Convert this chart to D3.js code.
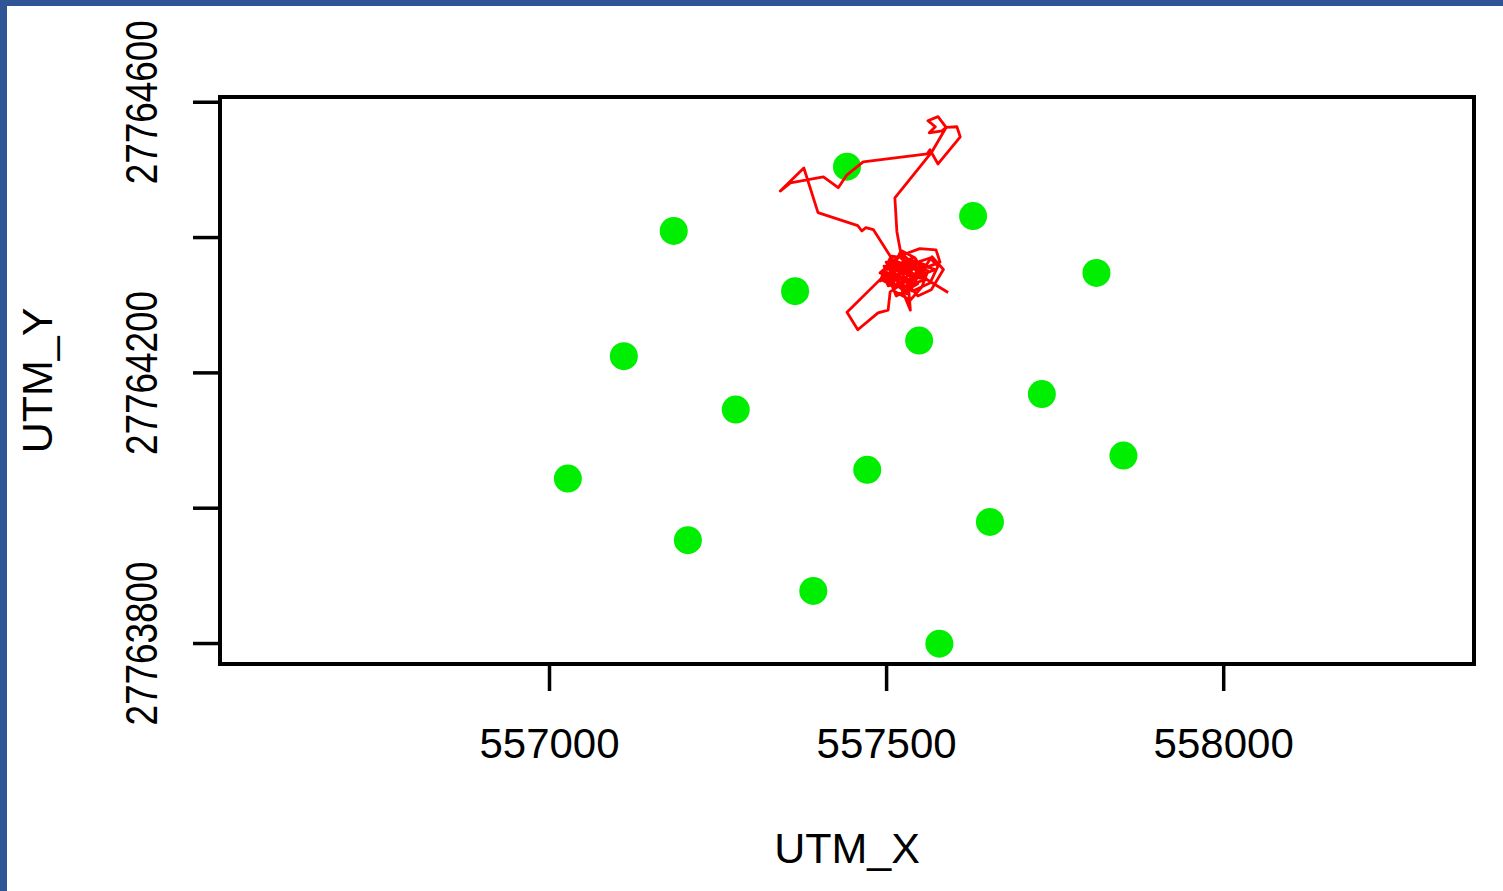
<!DOCTYPE html>
<html lang="en">
<head>
    <meta charset="UTF-8">
    <title>UTM track</title>
    <script src="https://cdn.jsdelivr.net/npm/d3@7"></script>
    <style>
        body { margin: 0; background: #fff; }
        text { font-family: "Liberation Sans", Arial, sans-serif; fill: #000; }
    </style>
</head>
<body>
    <svg id="plot" width="1503" height="891"></svg>
    <script>
        // station locations (green dots)
        const stationX = [557442, 557185, 557629, 557812, 557365, 557111, 557549, 557731,
                          557277, 557852, 557028, 557472, 557654, 557206, 557392, 557579]
        const stationY = [27764504, 27764409, 27764431, 27764347, 27764320, 27764224, 27764247, 27764168,
                          27764145, 27764077, 27764043, 27764056, 27763979, 27763952, 27763877, 27763799]

        // animal track (red line)
        const trackX = [557592, 557561, 557539, 557518, 557500, 557493, 557515, 557533, 557547, 557565,
                        557577, 557565, 557539, 557512, 557491, 557519, 557546, 557580, 557574, 557550,
                        557528, 557506, 557512, 557536, 557553, 557562, 557536, 557500, 557524, 557547,
                        557567, 557585, 557568, 557543, 557521, 557497, 557442, 557458, 557488, 557503,
                        557506, 557525, 557550, 557573, 557537, 557510, 557536, 557533, 557558, 557528,
                        557506, 557481, 557470, 557464, 557458, 557399, 557378, 557343, 557358, 557407,
                        557429, 557442, 557466, 557561, 557565, 557577, 557610, 557605, 557589, 557577,
                        557562, 557573, 557564, 557583, 557589, 557568, 557513, 557516, 557521, 557543,
                        557558, 557530, 557506, 557521, 557550,
                        557497, 557515, 557530, 557503, 557494, 557519, 557539, 557512, 557500, 557525,
                        557543, 557506, 557491, 557518, 557533, 557509, 557527, 557547, 557515, 557497,
                        557536, 557559, 557539, 557506, 557521, 557540, 557500, 557515, 557531, 557552]
        const trackY = [27764318, 27764337, 27764355, 27764363, 27764352, 27764337, 27764326, 27764344, 27764363, 27764369,
                        27764357, 27764332, 27764320, 27764338, 27764347, 27764371, 27764350, 27764363, 27764381, 27764383,
                        27764375, 27764363, 27764320, 27764307, 27764326, 27764350, 27764357, 27764334, 27764340, 27764313,
                        27764322, 27764352, 27764371, 27764335, 27764355, 27764343, 27764289, 27764263, 27764288, 27764292,
                        27764319, 27764332, 27764343, 27764352, 27764363, 27764355, 27764292, 27764329, 27764359, 27764369,
                        27764372, 27764411, 27764414, 27764409, 27764417, 27764436, 27764502, 27764468, 27764480, 27764489,
                        27764473, 27764492, 27764511, 27764523, 27764529, 27764508, 27764548, 27764563, 27764562, 27764578,
                        27764572, 27764563, 27764554, 27764557, 27764562, 27764526, 27764458, 27764408, 27764381, 27764369,
                        27764344, 27764337, 27764349, 27764360, 27764355,
                        27764352, 27764363, 27764334, 27764328, 27764349, 27764343, 27764369, 27764357, 27764340, 27764322,
                        27764344, 27764369, 27764335, 27764352, 27764363, 27764331, 27764355, 27764331, 27764313, 27764357,
                        27764343, 27764337, 27764331, 27764343, 27764378, 27764360, 27764363, 27764337, 27764316, 27764366]

        const xTicks = [557000, 557500, 558000]
        const yTicks = [27763800, 27764000, 27764200, 27764400, 27764600]
        const xLabels = ["557000", "557500", "558000"]
        const yLabels = ["27763800", "", "27764200", "", "27764600"]

        const svg = d3.select("#plot")
        const width = +svg.attr("width")
        const height = +svg.attr("height")

        // plot box
        const boxL = 220, boxR = 1474, boxT = 97, boxB = 664

        const x = d3.scaleLinear().domain([556512, 558372]).range([boxL, boxR])
        const y = d3.scaleLinear().domain([27763769, 27764607]).range([boxB, boxT])

        svg.append("rect").attr("width", width).attr("height", height).attr("fill", "#fff")

        // green stations
        const stations = stationX.map((d, i) => ({x: d, y: stationY[i]}))
        svg.append("g").selectAll("circle").data(stations).enter().append("circle")
            .attr("cx", d => x(d.x)).attr("cy", d => y(d.y)).attr("r", 14)
            .attr("fill", "#00ee00")

        // red track
        const track = trackX.map((d, i) => [d, trackY[i]])
        const line = d3.line().x(d => x(d[0])).y(d => y(d[1]))
        svg.append("path").datum(track).attr("d", line)
            .attr("fill", "none").attr("stroke", "#ff0000").attr("stroke-width", 2.8)
            .attr("stroke-linejoin", "round")

        // frame
        svg.append("rect").attr("x", boxL).attr("y", boxT)
            .attr("width", boxR - boxL).attr("height", boxB - boxT)
            .attr("fill", "none").attr("stroke", "#000").attr("stroke-width", 4)

        // x axis
        const xAxis = d3.axisBottom(x).tickValues(xTicks).tickFormat((d, i) => xLabels[i]).tickSize(27).tickPadding(0)
        const gx = svg.append("g").attr("transform", `translate(0,${boxB})`).call(xAxis)
        gx.select(".domain").attr("d", `M${x(xTicks[0])},0H${x(xTicks[xTicks.length - 1])}`)
            .attr("stroke-width", 4)
        gx.selectAll(".tick line").attr("stroke-width", 3.5)
        gx.selectAll(".tick text").attr("font-size", 42).attr("font-family", "Liberation Sans, Arial, sans-serif")
            .attr("dy", null).attr("y", 94)

        // y axis
        const yAxis = d3.axisLeft(y).tickValues(yTicks).tickFormat("").tickSize(27)
        const gy = svg.append("g").attr("transform", `translate(${boxL},0)`).call(yAxis)
        gy.select(".domain").attr("d", `M0,${y(yTicks[0])}V${y(yTicks[yTicks.length - 1])}`)
            .attr("stroke-width", 4)
        gy.selectAll(".tick line").attr("stroke-width", 3.5)
        gy.selectAll(".tick").append("text")
            .attr("transform", "translate(-63,0) rotate(-90)")
            .attr("text-anchor", "middle")
            .attr("font-size", 44)
            .attr("textLength", (d, i) => yLabels[i] ? 164 : null)
            .attr("lengthAdjust", "spacingAndGlyphs")
            .text((d, i) => yLabels[i])

        // axis titles
        svg.append("text").attr("x", (boxL + boxR) / 2).attr("y", 863)
            .attr("text-anchor", "middle").attr("font-size", 43).text("UTM_X")
        svg.append("text").attr("transform", `translate(52,${(boxT + boxB) / 2}) rotate(-90)`)
            .attr("text-anchor", "middle").attr("font-size", 43).text("UTM_Y")

        // slide border
        svg.append("rect").attr("x", 0).attr("y", 0).attr("width", width).attr("height", 6).attr("fill", "#2f5597")
        svg.append("rect").attr("x", 0).attr("y", 0).attr("width", 7).attr("height", height).attr("fill", "#2f5597")
    </script>
</body>
</html>
